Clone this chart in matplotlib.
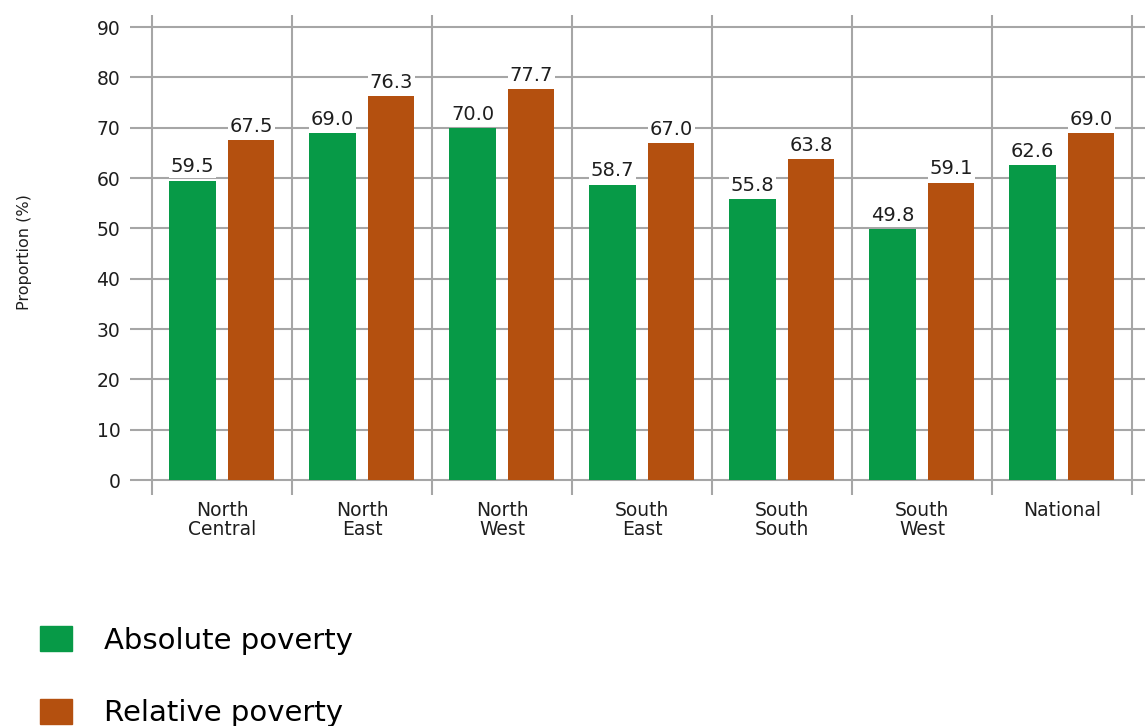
import numpy as np
import matplotlib
matplotlib.use('Agg')
import matplotlib.pyplot as plt
from matplotlib.patches import Patch

regions = ['North\nCentral', 'North\nEast', 'North\nWest', 'South\nEast',
           'South\nSouth', 'South\nWest', 'National']
absolute = [59.5, 69.0, 70.0, 58.7, 55.8, 49.8, 62.6]
relative = [67.5, 76.3, 77.7, 67.0, 63.8, 59.1, 69.0]
yticks = [0, 10, 20, 30, 40, 50, 60, 70, 80, 90]

green = '#079a47'
brown = '#b4500f'
grid_c = '#a6a6a6'
txt_c = '#1e1e1e'

plt.rcParams['font.family'] = ['DejaVu Sans']

fig = plt.figure(figsize=(11.45, 7.26), dpi=100)
ax = fig.add_axes([130 / 1145, 1 - 495 / 726, 1 - 130 / 1145, 480 / 726])

x = np.arange(len(regions))
w = 0.33
off = 0.21
b1 = ax.bar(x - off, absolute, w, color=green, zorder=3)
b2 = ax.bar(x + off, relative, w, color=brown, zorder=3)

for bars, vals in ((b1, absolute), (b2, relative)):
    for r, v in zip(bars, vals):
        ax.annotate(f'{v:.1f}', (r.get_x() + r.get_width() / 2, v),
                    xytext=(0, 3), textcoords='offset points',
                    ha='center', va='bottom', fontsize=14, color=txt_c,
                    zorder=5,
                    bbox=dict(boxstyle='square,pad=0.1', fc='white', ec='none'))

ax.set_ylim(-2.98, 92.4)
ax.set_xlim(-0.657, 6.593)

for yv in yticks:
    ax.axhline(yv, color=grid_c, lw=1.5, zorder=1)
for b in np.arange(-0.5, 7.0, 1.0):
    ax.axvline(b, color=grid_c, lw=1.5, zorder=1)

ax.set_yticks(yticks)
ax.set_yticklabels([str(t) for t in yticks], fontsize=13.5, color=txt_c)
ax.set_xticks(x)
ax.set_xticklabels(regions, fontsize=13.5, color=txt_c, linespacing=1.05)
ax.tick_params(axis='both', length=0)
ax.tick_params(axis='y', pad=7)
ax.tick_params(axis='x', pad=4)
for s in ax.spines.values():
    s.set_visible(False)

fig.text(25 / 1145, 1 - 252 / 726, 'Proportion (%)', rotation=90,
         ha='center', va='center', fontsize=11.5, color=txt_c)

handles = [Patch(color=green), Patch(color=brown)]
fig.legend(handles, ['Absolute poverty', 'Relative poverty'],
           loc='upper left', bbox_to_anchor=(14 / 1145, 1 - 600 / 726),
           frameon=False, fontsize=21, handlelength=1.1, handleheight=0.95,
           handletextpad=1.1, labelspacing=1.5)

fig.savefig('out.png', dpi=100)
